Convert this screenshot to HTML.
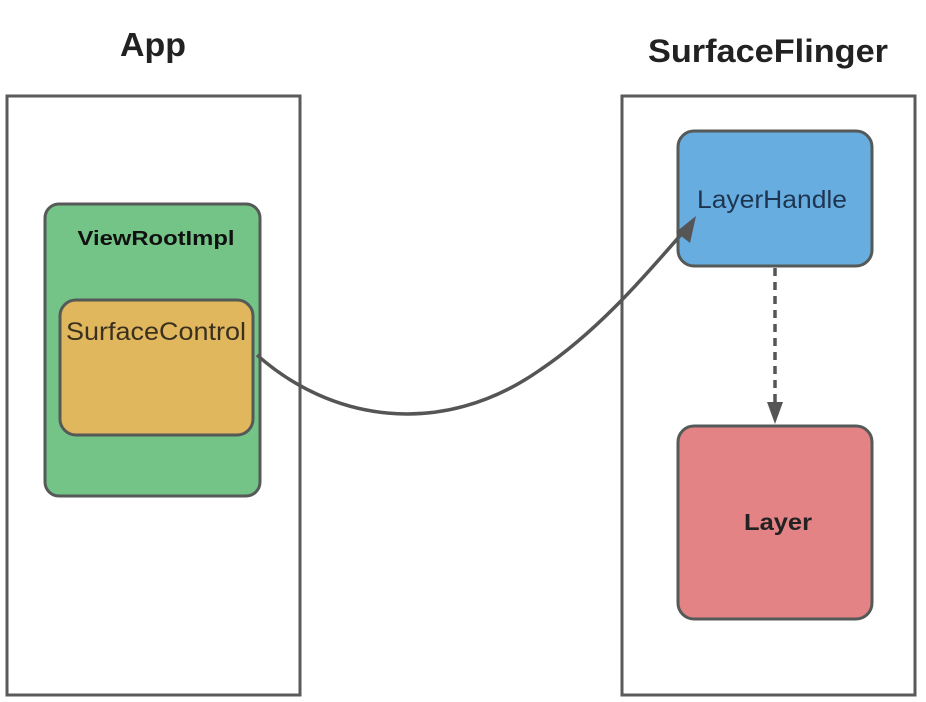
<!DOCTYPE html>
<html><head><meta charset="utf-8"><style>
html,body{margin:0;padding:0;background:#fff;width:926px;height:702px;overflow:hidden}
</style></head><body>
<svg width="926" height="702" viewBox="0 0 926 702" xmlns="http://www.w3.org/2000/svg" font-family="Liberation Sans, sans-serif">
<text x="153" y="56" text-anchor="middle" font-size="33" font-weight="bold" fill="#222" textLength="66" lengthAdjust="spacingAndGlyphs">App</text>
<text x="768" y="62" text-anchor="middle" font-size="32" font-weight="bold" fill="#222" textLength="240" lengthAdjust="spacingAndGlyphs">SurfaceFlinger</text>
<rect x="7" y="96" width="293" height="599" fill="#fff" stroke="#5a5a5a" stroke-width="3"/>
<rect x="622" y="96" width="293" height="599" fill="#fff" stroke="#5a5a5a" stroke-width="3"/>
<rect x="45" y="204" width="215" height="292" rx="14" fill="#74c387" stroke="#555a58" stroke-width="3"/>
<text x="156" y="245" text-anchor="middle" font-size="20" font-weight="bold" fill="#111" textLength="157" lengthAdjust="spacingAndGlyphs">ViewRootImpl</text>
<rect x="60" y="300" width="193" height="135" rx="16" fill="#e0b75c" stroke="#555a58" stroke-width="3"/>
<text x="156" y="340" text-anchor="middle" font-size="25" fill="#3a3020" textLength="180" lengthAdjust="spacingAndGlyphs">SurfaceControl</text>
<rect x="678" y="131" width="194" height="135" rx="16" fill="#67ade0" stroke="#555a58" stroke-width="3"/>
<text x="772" y="208" text-anchor="middle" font-size="25" fill="#1d3550" textLength="150" lengthAdjust="spacingAndGlyphs">LayerHandle</text>
<rect x="678" y="426" width="194" height="193" rx="16" fill="#e38385" stroke="#555a58" stroke-width="3"/>
<text x="778" y="530" text-anchor="middle" font-size="23" font-weight="bold" fill="#222" textLength="68" lengthAdjust="spacingAndGlyphs">Layer</text>
<path d="M257,355 C330,420 440,440 540,370 C600,330 650,270 685,230" fill="none" stroke="#555" stroke-width="3.5"/>
<polygon points="696,216 676,232 690,243" fill="#555"/>
<line x1="775" y1="268" x2="775" y2="408" stroke="#555" stroke-width="3.5" stroke-dasharray="8,6"/>
<polygon points="775,424 767,402 783,402" fill="#555"/>
</svg>
</body></html>
